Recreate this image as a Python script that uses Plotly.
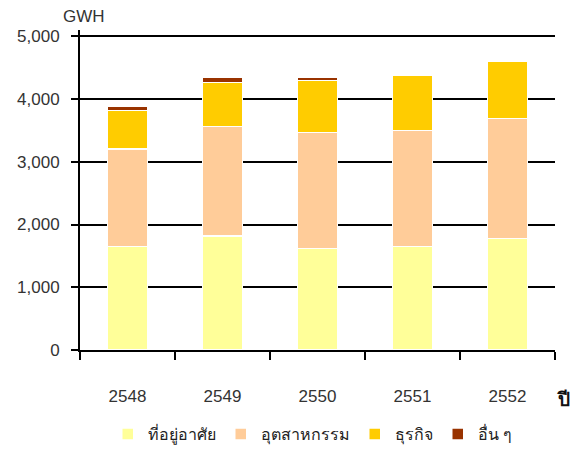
import plotly.graph_objects as go

years = ["2548", "2549", "2550", "2551", "2552"]
residential = [1650, 1815, 1620, 1650, 1780]
industrial = [1555, 1750, 1850, 1850, 1910]
commercial = [610, 700, 825, 880, 915]
others = [75, 80, 45, 0, 0]

names = ["ที่อยู่อาศัย", "อุตสาหกรรม", "ธุรกิจ", "อื่น ๆ"]
colors = ["#FFFF99", "#FFCC99", "#FFCC00", "#993300"]
series = [residential, industrial, commercial, others]

fig = go.Figure()
for n, c, s in zip(names, colors, series):
    fig.add_trace(go.Bar(x=years, y=s, name=n, marker=dict(color=c, line=dict(color="white", width=1.5))))

fig.update_layout(
    barmode="stack",
    bargap=0.58,
    width=576, height=457,
    margin=dict(l=80, r=21, t=30, b=107, autoexpand=False),
    plot_bgcolor="white", paper_bgcolor="white",
    font=dict(family="Liberation Sans, Arial, sans-serif", size=17, color="#333333"),
    showlegend=True,
    legend=dict(orientation="h", x=0.49, xanchor="center", y=-0.21, yanchor="top",
                font=dict(size=16, color="#222222"), traceorder="normal"),
    annotations=[
        dict(text="GWH", xref="paper", yref="paper", x=-0.04, y=1.005, xanchor="left", yanchor="bottom",
             showarrow=False, font=dict(size=17, color="#333333")),
        dict(text="<b>ปี</b>", xref="paper", yref="paper", x=1.0, y=-0.155, xanchor="left", yanchor="middle",
             showarrow=False, font=dict(size=19, color="#111111")),
    ],
)
fig.update_yaxes(range=[0, 5100], tickvals=[0, 1000, 2000, 3000, 4000, 5000], tickformat=",", showgrid=True,
                 gridcolor="black", gridwidth=1.5,
                 showline=True, linecolor="black", linewidth=2, ticks="outside", ticklen=7, tickcolor="black",
                 tickwidth=2, zeroline=False, ticklabelstandoff=8)
fig.update_xaxes(showline=True, linecolor="black", linewidth=2, ticks="outside", ticklen=8, tickwidth=2,
                 tickcolor="black", tickson="boundaries", ticklabelstandoff=30)
fig.write_html("out.html")
